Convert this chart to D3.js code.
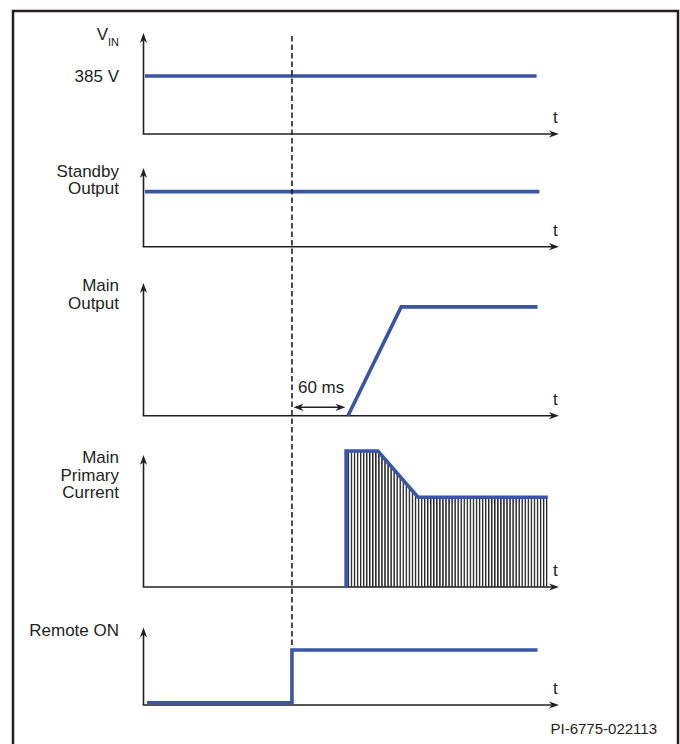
<!DOCTYPE html>
<html>
<head>
<meta charset="utf-8">
<script src="https://cdn.jsdelivr.net/npm/d3@7"></script>
<style>
  body { margin: 0; background: #fff; }
  text { font-family: "Liberation Sans", Arial, sans-serif; fill: #231f20; }
</style>
</head>
<body>
<div id="chart"></div>
<script>
// time in ms, 0 = Remote ON
var tDomain = [-159, 286]
var delayMs = 60

var vinData = [[-157.5, 385], [262, 385]]
var standbyData = [[-157.5, 0.70], [265, 0.70]]
var mainOutData = [[60, 0], [117, 0.82], [263, 0.82]]
var primaryData = [[58, 0], [58, 1.03], [92, 1.03], [135, 0.68], [274, 0.68]]
var remoteData = [[-155.3, 0.03], [0, 0.03], [0, 0.71], [263, 0.71]]

var labels = [
  ["V"],
  ["Standby", "Output"],
  ["Main", "Output"],
  ["Main", "Primary", "Current"],
  ["Remote ON"]
]

// panel layout
var panels = [
  { axisY: 134, topY: 33, domain: [0, 670], data: vinData, lab: [40], hatch: false },
  { axisY: 246.7, topY: 168, domain: [0, 1], data: standbyData, lab: [176.8, 194.3], hatch: false },
  { axisY: 415.7, topY: 283, domain: [0, 1], data: mainOutData, lab: [291.3, 309], hatch: false },
  { axisY: 587, topY: 455, domain: [0, 1], data: primaryData, lab: [463, 480.5, 498], hatch: true },
  { axisY: 705, topY: 627.5, domain: [0, 1], data: remoteData, lab: [636], hatch: false }
]

const W = 680, H = 744
const blue = "#3a55a4", ink = "#231f20"

const svg = d3.select("#chart").append("svg")
    .attr("width", W).attr("height", H)

const x = d3.scaleLinear().domain(tDomain).range([143.5, 559])

// hatch pattern
const defs = svg.append("defs")
defs.append("pattern")
    .attr("id", "hatch")
    .attr("patternUnits", "userSpaceOnUse")
    .attr("width", 3.05).attr("height", 10)
    .append("line")
    .attr("x1", 0.7).attr("x2", 0.7).attr("y1", 0).attr("y2", 10)
    .attr("stroke", "#222").attr("stroke-width", 1.4)

// frame
svg.append("path")
    .attr("d", "M13,750 L13,11 L678,11 L678,750")
    .attr("fill", "none").attr("stroke", ink).attr("stroke-width", 2.5)

function arrowHead(g, tipX, tipY, dir) {
  // dir: "up", "right", "left"
  var L = 10, w = 3.6, n = 7
  var p
  if (dir == "up") p = [[tipX, tipY], [tipX + w, tipY + L], [tipX, tipY + n], [tipX - w, tipY + L]]
  else if (dir == "right") p = [[tipX, tipY], [tipX - L, tipY - w], [tipX - n, tipY], [tipX - L, tipY + w]]
  else p = [[tipX, tipY], [tipX + L, tipY - w], [tipX + n, tipY], [tipX + L, tipY + w]]
  g.append("path").attr("d", "M" + p.join("L") + "Z").attr("fill", ink)
}

panels.forEach(function (p, i) {
  const g = svg.append("g")
  const y = d3.scaleLinear().domain(p.domain).range([p.axisY, p.topY])
  const x0 = x.range()[0], x1 = x.range()[1]

  if (p.hatch) {
    const area = d3.area()
        .x(function (d) { return x(d[0]) })
        .y0(y(0))
        .y1(function (d) { return y(d[1]) })
    g.append("path")
        .datum(p.data.slice(1))
        .attr("d", area)
        .attr("fill", "url(#hatch)")
  }

  // axes
  g.append("line")
      .attr("x1", x0).attr("x2", x0)
      .attr("y1", p.axisY).attr("y2", p.topY + 4)
      .attr("stroke", ink).attr("stroke-width", 1.6)
  arrowHead(g, x0, p.topY, "up")
  g.append("line")
      .attr("x1", x0 - 0.8).attr("x2", x1 - 4)
      .attr("y1", p.axisY).attr("y2", p.axisY)
      .attr("stroke", ink).attr("stroke-width", 1.6)
  arrowHead(g, x1, p.axisY, "right")
  g.append("text")
      .attr("x", x1 - 6).attr("y", p.axisY - 11)
      .attr("font-size", 17)
      .text("t")

  // signal
  const line = d3.line()
      .x(function (d) { return x(d[0]) })
      .y(function (d) { return y(d[1]) })
  g.append("path")
      .datum(p.data)
      .attr("d", line)
      .attr("fill", "none")
      .attr("stroke", blue)
      .attr("stroke-width", 3.6)
      .attr("stroke-linejoin", "miter")

  // labels
  if (i == 0) {
    const t = g.append("text")
        .attr("x", 119).attr("y", p.lab[0])
        .attr("text-anchor", "end")
        .attr("font-size", 17)
    t.append("tspan").text("V")
    t.append("tspan").attr("dy", 6).attr("font-size", 11).text("IN")
    g.append("text")
        .attr("x", 119).attr("y", y(vinData[0][1]) + 6)
        .attr("text-anchor", "end")
        .attr("font-size", 17)
        .text(vinData[0][1] + " V")
  } else {
    labels[i].forEach(function (s, k) {
      g.append("text")
          .attr("x", 119).attr("y", p.lab[k])
          .attr("text-anchor", "end")
          .attr("font-size", 17)
          .text(s)
    })
  }
})

// dashed Remote ON marker
svg.append("line")
    .attr("x1", x(0)).attr("x2", x(0))
    .attr("y1", 36).attr("y2", 647)
    .attr("stroke", ink).attr("stroke-width", 1.6)
    .attr("stroke-dasharray", "5.5,3")

// 60 ms delay arrow
const dg = svg.append("g")
dg.append("line")
    .attr("x1", x(0) + 4).attr("x2", x(delayMs) - 5)
    .attr("y1", 407.3).attr("y2", 407.3)
    .attr("stroke", ink).attr("stroke-width", 1.4)
arrowHead(dg, x(0) + 1.5, 407.3, "left")
arrowHead(dg, x(delayMs) - 2.5, 407.3, "right")
dg.append("text")
    .attr("x", x(0) + 6).attr("y", 393)
    .attr("font-size", 17)
    .text(delayMs + " ms")

svg.append("text")
    .attr("x", 657).attr("y", 734)
    .attr("text-anchor", "end")
    .attr("font-size", 15)
    .text("PI-6775-022113")
</script>
</body>
</html>
